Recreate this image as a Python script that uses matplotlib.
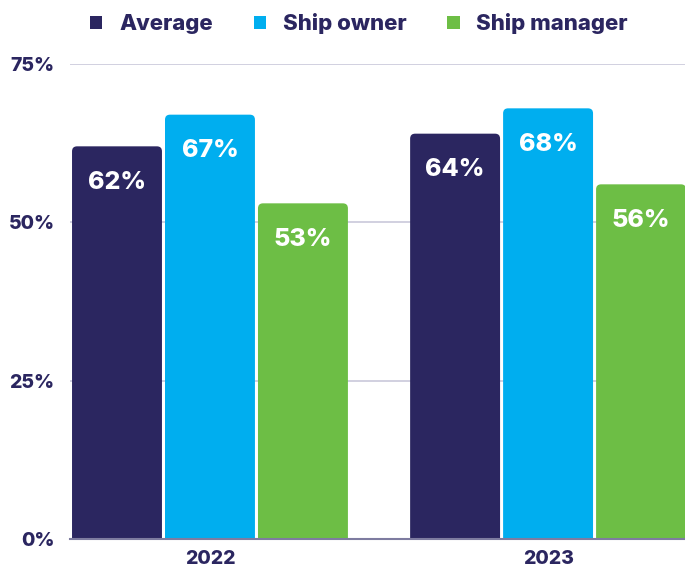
import matplotlib
matplotlib.use("Agg")
import matplotlib.pyplot as plt
import numpy as np
from matplotlib.patches import FancyBboxPatch, Patch

years = ["2022", "2023"]
series = ["Average", "Ship owner", "Ship manager"]
values = {
    "Average": [62, 64],
    "Ship owner": [67, 68],
    "Ship manager": [53, 56],
}
colors = {"Average": "#2b2660", "Ship owner": "#00aeef", "Ship manager": "#6dbe45"}
yticks = [0, 25, 50, 75]
navy = "#2b2660"

plt.rcParams['font.family'] = ['Inter', 'DejaVu Sans']
W = 'heavy'

fig = plt.figure(figsize=(6.85, 5.7), dpi=100)
ax = fig.add_axes([70/685, 1-539/570, 615/685, 475/570])

x = np.arange(len(years))
w = 0.266
step = 0.275
ax.set_xlim(-0.414, 1.405)
ax.set_ylim(0, 75)

px_x = 338.0
px_y = 475/75
r = 5/px_x
aspect = px_x/px_y

for i, s in enumerate(series):
    bars = ax.bar(x + (i-1)*step, values[s], width=w, color=colors[s], label=s, zorder=3)
    for rect, v in zip(bars, values[s]):
        rect.set_visible(False)
        p = FancyBboxPatch((rect.get_x(), -3), rect.get_width(), rect.get_height()+3,
                           boxstyle=f"round,pad=0,rounding_size={r}",
                           mutation_aspect=aspect, facecolor=colors[s], edgecolor='none',
                           zorder=3, clip_on=True)
        ax.add_patch(p)
        ax.annotate(f"{v}%", (rect.get_x()+rect.get_width()/2, v), xytext=(0, -26),
                    textcoords='offset points', ha='center', va='center',
                    color='white', fontsize=18, fontweight=W, zorder=4)

ax.set_yticks(yticks)
ax.set_yticklabels([f"{t}%" for t in yticks])
ax.set_xticks(x)
ax.set_xticklabels(years)
ax.tick_params(axis='y', length=0, pad=11, labelsize=14, labelcolor=navy)
ax.tick_params(axis='x', length=0, pad=8, labelsize=14, labelcolor=navy)
for lab in ax.get_xticklabels() + ax.get_yticklabels():
    lab.set_fontweight(W)
ax.grid(axis='y', color='#c9c8da', linewidth=1.2, zorder=0)
ax.set_axisbelow(True)
for sp in ['top', 'right', 'left']:
    ax.spines[sp].set_visible(False)
ax.spines['bottom'].set_color('#7e7ca0')
ax.spines['bottom'].set_linewidth(1.5)
ax.spines['bottom'].set_zorder(5)

handles = [Patch(facecolor=colors[s], edgecolor='none') for s in series]
leg = fig.legend(handles=handles, labels=series, loc='upper center', bbox_to_anchor=(0.524, 1.012),
                 ncol=3, frameon=False, handlelength=0.55, handleheight=0.55,
                 columnspacing=1.85, handletextpad=0.75, prop={'weight': W, 'size': 16})
for t in leg.get_texts():
    t.set_color(navy)

fig.savefig("out.png", dpi=100)
